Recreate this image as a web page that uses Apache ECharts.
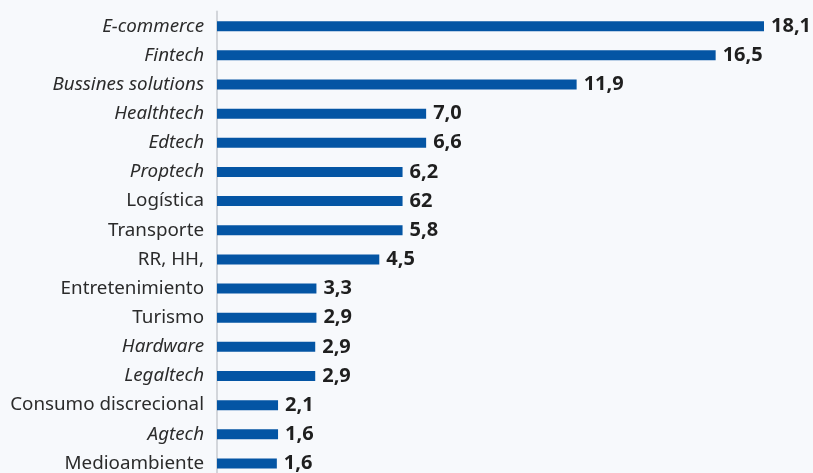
<!DOCTYPE html>
<html><head><meta charset="utf-8">
<script src="https://cdn.jsdelivr.net/npm/echarts@6/dist/echarts.min.js"></script>
<style>html,body{margin:0;padding:0;background:#f7f9fc;overflow:hidden}#c{width:813px;height:480px}</style>
</head><body><div id="c"></div>
<script>
const categories = ["E-commerce","Fintech","Bussines solutions","Healthtech","Edtech","Proptech","Logística","Transporte","RR, HH,","Entretenimiento","Turismo","Hardware","Legaltech","Consumo discrecional","Agtech","Medioambiente"];
const italicCats = ["E-commerce","Fintech","Bussines solutions","Healthtech","Edtech","Proptech","Hardware","Legaltech","Agtech"];
// bar lengths as drawn in the reference picture
const values = [18.1,16.5,11.9,6.92,6.92,6.14,6.14,6.14,5.37,3.29,3.29,3.25,3.25,2.02,2.02,1.98];
// printed labels as shown in the reference
const valueLabels = ["18,1","16,5","11,9","7,0","6,6","6,2","62","5,8","4,5","3,3","2,9","2,9","2,9","2,1","1,6","1,6"];

const chart = echarts.init(document.getElementById('c'));
chart.setOption({
  backgroundColor: '#f7f9fc',
  animation: false,
  grid: { left: 217, width: 547, top: 11.6, height: 466.4, containLabel: false },
  xAxis: { type: 'value', min: 0, max: 18.1, show: false },
  yAxis: {
    type: 'category', inverse: true, data: categories,
    axisLine: { show: true, lineStyle: { color: '#d3d6db', width: 2 } },
    axisTick: { show: false },
    axisLabel: {
      margin: 13, fontFamily: 'Noto Sans', fontSize: 18.8, color: '#2b2b2b',
      formatter: v => italicCats.includes(v) ? '{i|' + v + '}' : '{n|' + v + '}',
      rich: {
        i: { fontFamily: 'Noto Sans', fontSize: 18.8, fontStyle: 'italic', color: '#2b2b2b' },
        n: { fontFamily: 'Noto Sans', fontSize: 18.8, color: '#2b2b2b' }
      }
    }
  },
  series: [{
    type: 'bar', data: values, barWidth: 10,
    itemStyle: { color: '#0455a4' },
    label: {
      show: true, position: 'right', distance: 7,
      fontFamily: 'Noto Sans', fontSize: 20, fontWeight: 'bold', color: '#1f1f1f',
      formatter: p => valueLabels[p.dataIndex]
    }
  }]
});
</script></body></html>
